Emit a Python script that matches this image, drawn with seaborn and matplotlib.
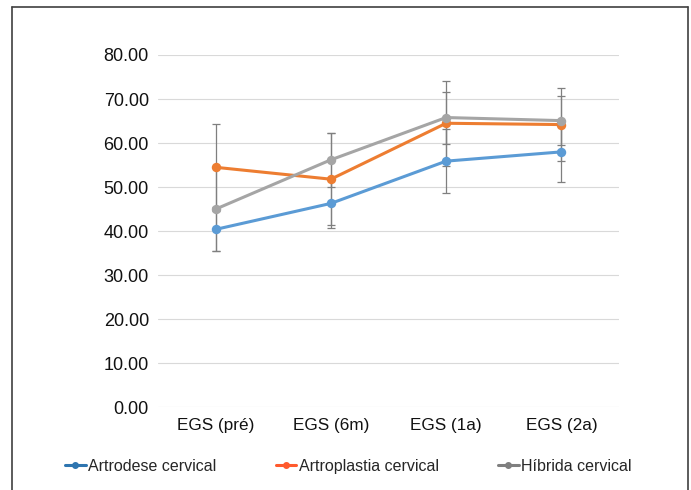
import matplotlib
matplotlib.use("Agg")
import matplotlib.pyplot as plt
import seaborn as sns
import pandas as pd
from matplotlib.lines import Line2D

categories = ["EGS (pré)", "EGS (6m)", "EGS (1a)", "EGS (2a)"]
series_names = ["Artrodese cervical", "Artroplastia cervical", "Híbrida cervical"]
artrodese = [40.4, 46.3, 55.9, 58.0]
artrodese_err = [5.0, 5.6, 7.2, 6.9]
artroplastia = [54.5, 51.8, 64.5, 64.2]
artroplastia_err = [9.9, 10.4, 9.6, 8.3]
hibrida = [45.0, 56.2, 65.8, 65.1]
hibrida_err = [9.5, 6.1, 5.9, 5.5]
yticks = [0, 10, 20, 30, 40, 50, 60, 70, 80]

line_colors = ["#5B9BD5", "#ED7D31", "#A5A5A5"]
legend_colors = ["#2E75B0", "#FF5A2D", "#7F7F7F"]

values = [artrodese, artroplastia, hibrida]
errors = [artrodese_err, artroplastia_err, hibrida_err]

rows = []
for name, vals in zip(series_names, values):
    for cat, v in zip(categories, vals):
        rows.append({"grupo": name, "tempo": cat, "valor": v})
df = pd.DataFrame(rows)

sns.set_theme(style="white")
plt.rcParams['font.family'] = ['Liberation Sans', 'DejaVu Sans']

fig = plt.figure(figsize=(6.91, 4.90), dpi=100)
ax = fig.add_axes([158 / 691, 1 - 407.3 / 490, (619 - 158) / 691, (407.3 - 55) / 490])

xpos = list(range(len(categories)))
for vals, errs in zip(values, errors):
    ax.errorbar(xpos, vals, yerr=errs, fmt="none", ecolor="#7F7F7F",
                elinewidth=0.9, capsize=2.6, capthick=0.9, zorder=2)

sns.lineplot(data=df, x="tempo", y="valor", hue="grupo", palette=line_colors,
             marker="o", markersize=6.8, markeredgewidth=0, linewidth=2.2,
             ax=ax, legend=False, zorder=3)

ax.set_xlim(-0.5, 3.5)
ax.set_ylim(0, 80)
ax.set_yticks(yticks)
ax.set_yticklabels([f"{t:.2f}" for t in yticks])
ax.yaxis.grid(True, color="#D9D9D9", linewidth=0.8)
ax.set_axisbelow(True)
for s in ax.spines.values():
    s.set_visible(False)
ax.tick_params(axis="both", length=0, colors="#111111")
ax.tick_params(axis="y", pad=6.5, labelsize=13)
ax.tick_params(axis="x", pad=8, labelsize=12.3)
ax.set_xlabel("")
ax.set_ylabel("")

handles = [Line2D([0], [0], color=c, marker="o", markersize=4, linewidth=2.2)
           for c in legend_colors]
fig.legend(handles, series_names, loc="center left",
           bbox_to_anchor=(65 / 691, 1 - 466 / 490), ncol=3, frameon=False,
           fontsize=11.5, handlelength=1.3, handletextpad=0.15,
           columnspacing=3.7, borderpad=0, borderaxespad=0)

# outer frame
frame_kw = dict(color="#404040", linewidth=1.2, transform=fig.transFigure)
fig.add_artist(Line2D([11.5 / 691, 11.5 / 691], [0, 1 - 7 / 490], **frame_kw))
fig.add_artist(Line2D([11.5 / 691, 688 / 691], [1 - 7 / 490, 1 - 7 / 490], **frame_kw))
fig.add_artist(Line2D([688 / 691, 688 / 691], [0, 1 - 7 / 490], **frame_kw))

fig.savefig("out.png", dpi=100)
